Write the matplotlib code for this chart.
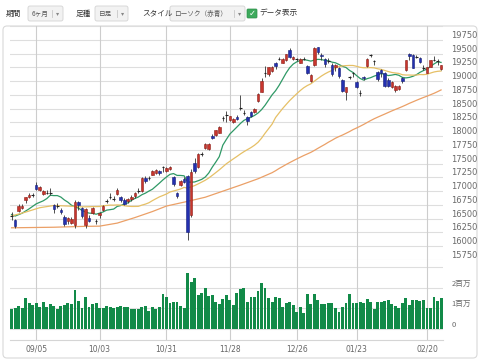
import numpy as np
import pandas as pd
import matplotlib
matplotlib.use("Agg")
import matplotlib.pyplot as plt
from matplotlib.patches import FancyBboxPatch, Rectangle

CJK = ["Noto Sans CJK JP", "DejaVu Sans"]

# ---------------- data ----------------
holidays = ["2016-09-19", "2016-09-22", "2016-10-10", "2016-11-03", "2016-11-23",
            "2016-12-23", "2017-01-02", "2017-01-03", "2017-01-09"]
dates = [d for d in pd.bdate_range("2016-08-25", "2017-02-24")
         if d.strftime("%Y-%m-%d") not in holidays]

opens = [16560, 16480, 16640, 16700, 16840, 16900, 16930, 17120, 17030, 16950,
         16965, 16970, 16740, 16720, 16660, 16540, 16450, 16430, 16390, 16800,
         16700, 16380, 16520, 16600, 16460, 16560, 16650, 16815, 16890, 16860,
         16950, 16900, 16840, 16820, 16850, 16920, 16990, 17010, 17240, 17230,
         17300, 17330, 17360, 17445, 17370, 17400, 17260, 16960, 17120, 17230,
         17270, 16570, 17520, 17440, 17680, 17790, 17760, 18000, 18020, 18060,
         18330, 18380, 18290, 18260, 18350, 18510, 18430, 18350, 18440, 18430,
         18630, 18810, 19150, 19120, 19180, 19330, 19400, 19330, 19380, 19560,
         19400, 19400, 19330, 19400, 19280, 19000, 19298, 19610, 19480, 19400,
         19370, 19300, 19250, 19240, 19020, 18800, 19070, 19130, 18980, 18790,
         19080, 19270, 19460, 19370, 19170, 19200, 19150, 19020, 18900, 18830,
         18850, 19050, 19200, 19500, 19480, 19440, 19420, 19240, 19150, 19260,
         19380, 19370, 19220]
highs = [16620, 16500, 16760, 16760, 16900, 16960, 16960, 17160, 17100, 17030,
         17030, 17060, 16760, 16780, 16690, 16560, 16530, 16530, 16840, 16820,
         16720, 16700, 16560, 16720, 16500, 16620, 16750, 16850, 16960, 16920,
         17050, 16920, 16880, 16880, 16930, 16980, 17050, 17250, 17270, 17270,
         17380, 17400, 17380, 17450, 17440, 17460, 17280, 16990, 17200, 17260,
         17300, 17400, 17600, 17700, 17720, 17880, 17880, 18030, 18120, 18180,
         18360, 18450, 18370, 18330, 18390, 18745, 18480, 18370, 18460, 18510,
         18790, 19050, 19280, 19260, 19270, 19350, 19440, 19410, 19500, 19593,
         19450, 19420, 19420, 19430, 19300, 19120, 19615, 19620, 19510, 19420,
         19420, 19320, 19310, 19260, 19040, 18900, 19100, 19170, 19000, 18840,
         19100, 19420, 19500, 19380, 19180, 19220, 19160, 19060, 19000, 18920,
         18930, 19070, 19390, 19510, 19490, 19480, 19440, 19300, 19260, 19390,
         19450, 19400, 19300]
lows = [16480, 16330, 16620, 16680, 16790, 16880, 16890, 17020, 17010, 16930,
        16940, 16930, 16610, 16690, 16590, 16360, 16400, 16400, 16340, 16650,
        16510, 16330, 16440, 16580, 16400, 16520, 16640, 16780, 16860, 16820,
        16930, 16800, 16750, 16790, 16820, 16880, 16960, 16990, 17150, 17200,
        17290, 17310, 17300, 17350, 17350, 17380, 17090, 16870, 17100, 17150,
        16111, 16530, 17330, 17420, 17630, 17770, 17740, 17940, 18000, 18050,
        18280, 18250, 18270, 18240, 18290, 18480, 18380, 18200, 18340, 18420,
        18620, 18800, 19080, 19100, 19160, 19220, 19380, 19320, 19360, 19410,
        19390, 19360, 19320, 19380, 19130, 18990, 19280, 19500, 19380, 19260,
        19320, 19100, 19180, 19060, 18800, 18650, 19030, 19080, 18880, 18730,
        19020, 19260, 19440, 19300, 19000, 19070, 18890, 18900, 18880, 18800,
        18840, 18970, 19180, 19380, 19230, 19420, 19330, 19200, 19140, 19250,
        19360, 19300, 19200]
closes = [16556, 16361, 16737, 16725, 16887, 16927, 16926, 17038, 17082, 17012,
          16959, 16966, 16673, 16729, 16614, 16405, 16519, 16492, 16808, 16754,
          16545, 16684, 16465, 16694, 16450, 16599, 16736, 16819, 16899, 16860,
          17025, 16840, 16774, 16856, 16900, 16964, 16999, 17235, 17185, 17234,
          17365, 17392, 17336, 17446, 17425, 17442, 17135, 16905, 17177, 17171,
          16252, 17344, 17375, 17673, 17668, 17862, 17863, 17967, 18106, 18163,
          18333, 18381, 18357, 18307, 18308, 18513, 18426, 18275, 18361, 18497,
          18765, 18996, 19155, 19251, 19254, 19274, 19401, 19392, 19495, 19444,
          19428, 19397, 19403, 19402, 19145, 19114, 19594, 19521, 19454, 19301,
          19365, 19135, 19287, 19095, 18814, 18894, 19072, 19138, 18891, 18788,
          19058, 19402, 19467, 19369, 19041, 19148, 18915, 18918, 18977, 18911,
          18908, 19008, 19379, 19459, 19239, 19438, 19348, 19235, 19251, 19381,
          19380, 19371, 19284]
volumes = [0.95, 1.00, 1.11, 1.00, 1.48, 1.27, 1.16, 1.24, 1.08, 1.29,
           1.08, 1.21, 1.11, 0.95, 1.11, 1.16, 1.24, 1.19, 1.88, 1.37,
           1.00, 1.56, 1.08, 1.19, 1.24, 1.00, 1.00, 1.13, 1.06, 1.01,
           1.08, 1.11, 1.08, 1.05, 0.95, 0.97, 0.98, 1.08, 1.11, 0.89,
           1.05, 0.97, 1.05, 1.69, 1.56, 1.24, 1.32, 1.29, 1.11, 1.00,
           2.72, 2.27, 2.45, 1.64, 1.72, 1.96, 1.59, 1.64, 1.32, 1.19,
           1.45, 1.64, 1.40, 1.16, 1.75, 1.92, 1.96, 1.32, 1.56, 1.56,
           1.85, 2.21, 1.96, 1.48, 1.32, 1.53, 1.51, 1.05, 1.24, 1.29,
           1.16, 0.84, 1.08, 0.76, 1.69, 1.21, 1.69, 1.40, 1.19, 1.19,
           1.27, 1.24, 1.00, 0.84, 1.08, 1.24, 1.69, 1.24, 1.24, 1.29,
           1.24, 1.43, 1.32, 0.95, 1.32, 1.29, 1.35, 1.40, 1.21, 1.11,
           1.00, 1.27, 1.48, 1.16, 1.40, 1.40, 1.37, 1.40, 1.00, 1.00,
           1.56, 1.37, 1.48]

ma10_early_idx = [0, 1, 3, 5, 7]
ma10_early_val = [16575, 16548, 16600, 16680, 16770]
ma25_early_idx = [0, 4, 8, 12, 16, 20]
ma25_early_val = [16550, 16620, 16700, 16740, 16730, 16715]
ma75_early_idx = [0, 12, 20, 25, 30, 35, 40, 44, 50, 55, 60, 65, 70]
ma75_early_val = [16335, 16345, 16360, 16365, 16420, 16520, 16630, 16730,
                  16815, 16890, 17000, 17110, 17225]

tick_labels = ["09/05", "10/03", "10/31", "11/28", "12/26", "01/23", "02/20"]
price_grid = list(range(15750, 20001, 250))
price_labels = list(range(15750, 19751, 250))
vol_grid = [0, 1, 2, 3]
vol_ticks = [0, 1, 2]
vol_tick_labels = ["0", "1百万", "2百万"]

# ---------------- figure ----------------
W, H = 480, 363
fig = plt.figure(figsize=(W / 100, H / 100), dpi=100)
fig.patch.set_facecolor("white")


def fax(x0, y0, x1, y1):
    return [x0 / W, 1 - y1 / H, (x1 - x0) / W, (y1 - y0) / H]


deco = fig.add_axes([0, 0, 1, 1], zorder=0)
deco.set_xlim(0, W)
deco.set_ylim(H, 0)
deco.axis("off")

# panel frame
deco.add_patch(FancyBboxPatch((3, 26), 474, 332, boxstyle="round,pad=0,rounding_size=4",
                              fc="white", ec="#d9d9d9", lw=0.8))

# header controls
hy = 13.5
deco.text(6, hy, "期間", fontsize=5.5, family=CJK, va="center", color="#333333")
deco.text(76, hy, "足種", fontsize=5.5, family=CJK, va="center", color="#333333")
deco.text(142, hy, "スタイル", fontsize=5.5, family=CJK, va="center", color="#333333")
boxes = [(28, 63, "6ヶ月"), (95, 128, "日足"), (170, 245, "ローソク（赤青）")]
for x0, x1, lab in boxes:
    deco.add_patch(FancyBboxPatch((x0, 6), x1 - x0, 15, boxstyle="round,pad=0,rounding_size=2",
                                  fc="#f2f2f2", ec="#d3d3d3", lw=0.6))
    deco.text(x0 + 4, hy, lab, fontsize=4.8, family=CJK, va="center", color="#555555")
    deco.plot([x1 - 11, x1 - 11], [10, 17], color="#c8c8c8", lw=0.6)
    deco.text(x1 - 5.5, hy, "▾", fontsize=4.5, ha="center", va="center", color="#888888")
deco.add_patch(FancyBboxPatch((247, 9), 10, 9, boxstyle="round,pad=0,rounding_size=1",
                              fc="#3daa5c", ec="#2e8f4a", lw=0.5))
deco.text(252, 13.7, "✓", fontsize=6, ha="center", va="center", color="white",
          fontweight="bold", family="DejaVu Sans")
deco.text(259, hy, "データ表示", fontsize=5.5, family=CJK, va="center", color="#333333")

axp = fig.add_axes(fax(10, 26, 443, 260), zorder=1)
axv = fig.add_axes(fax(10, 260, 443, 340), zorder=1, sharex=axp)
for a in (axp, axv):
    a.set_facecolor("none")
    for s in a.spines.values():
        s.set_visible(False)

n = len(closes)
x = np.arange(n)
o = np.array(opens, float)
h = np.array(highs, float)
l = np.array(lows, float)
c = np.array(closes, float)
tick_pos = [i for i, d in enumerate(dates) if d.strftime("%m/%d") in tick_labels]

# grid
for v in price_grid:
    axp.axhline(v, color="#dedede", lw=0.8, zorder=0)
for v in vol_grid:
    axv.axhline(v, color="#dedede", lw=0.8, zorder=0)
for p in tick_pos:
    axp.axvline(p, color="#cdcdcd", lw=0.8, zorder=0)
    axv.axvline(p, color="#cdcdcd", lw=0.8, zorder=0)

# moving averages
cs = pd.Series(c)
ma_specs = [(10, ma10_early_idx, ma10_early_val, "#2f9966"),
            (25, ma25_early_idx, ma25_early_val, "#e6c066"),
            (75, ma75_early_idx, ma75_early_val, "#eba067")]
for win, eidx, evals, col in ma_specs:
    calc = cs.rolling(win).mean()
    xs = list(eidx) + list(range(win - 1, n))
    ys = list(evals) + list(calc.iloc[win - 1:])
    axp.plot(xs, ys, color=col, lw=0.9, zorder=2)

# candles
tol = 15
up = (c - o) > tol
dn = (o - c) > tol
dj = ~(up | dn)
axp.vlines(x, l, h, colors="#333333", lw=0.6, zorder=3)
bw = 0.72
axp.bar(x[up], (c - o)[up], bottom=o[up], width=bw, color="#c8352d",
        edgecolor="#8c2019", lw=0.4, zorder=4)
axp.bar(x[dn], (o - c)[dn], bottom=c[dn], width=bw, color="#2430b0",
        edgecolor="#16207a", lw=0.4, zorder=4)
axp.hlines(c[dj], x[dj] - bw / 2, x[dj] + bw / 2, colors="#222222", lw=0.8, zorder=4)

# volume
axv.bar(x, volumes, width=0.82, color="#128a48", zorder=2)

# axes limits and ticks
axp.set_xlim(-0.45, n - 0.45)
axp.set_ylim(15750, 20000)
axv.set_ylim(-0.532, 3.339)

axp.yaxis.tick_right()
axp.set_yticks(price_labels)
axp.set_yticklabels([str(v) for v in price_labels])
axp.tick_params(axis="y", length=0, pad=6, labelsize=6, labelcolor="#6a6a6a")
for t in axp.get_yticklabels():
    t.set_va("bottom")
axp.tick_params(axis="x", length=0, labelbottom=False)

axv.yaxis.tick_right()
axv.set_yticks(vol_ticks)
axv.set_yticklabels(vol_tick_labels, family=CJK)
axv.tick_params(axis="y", length=0, pad=6, labelsize=5.5, labelcolor="#6a6a6a")
for t in axv.get_yticklabels():
    t.set_va("bottom")
axv.set_xticks(tick_pos)
axv.set_xticklabels(tick_labels)
axv.tick_params(axis="x", length=0, pad=3, labelsize=5.5, labelcolor="#666666")
axv.spines["bottom"].set_visible(True)
axv.spines["bottom"].set_color("#d5d5d5")
axv.spines["bottom"].set_linewidth(0.8)

fig.savefig("out.png", dpi=100, facecolor="white")
